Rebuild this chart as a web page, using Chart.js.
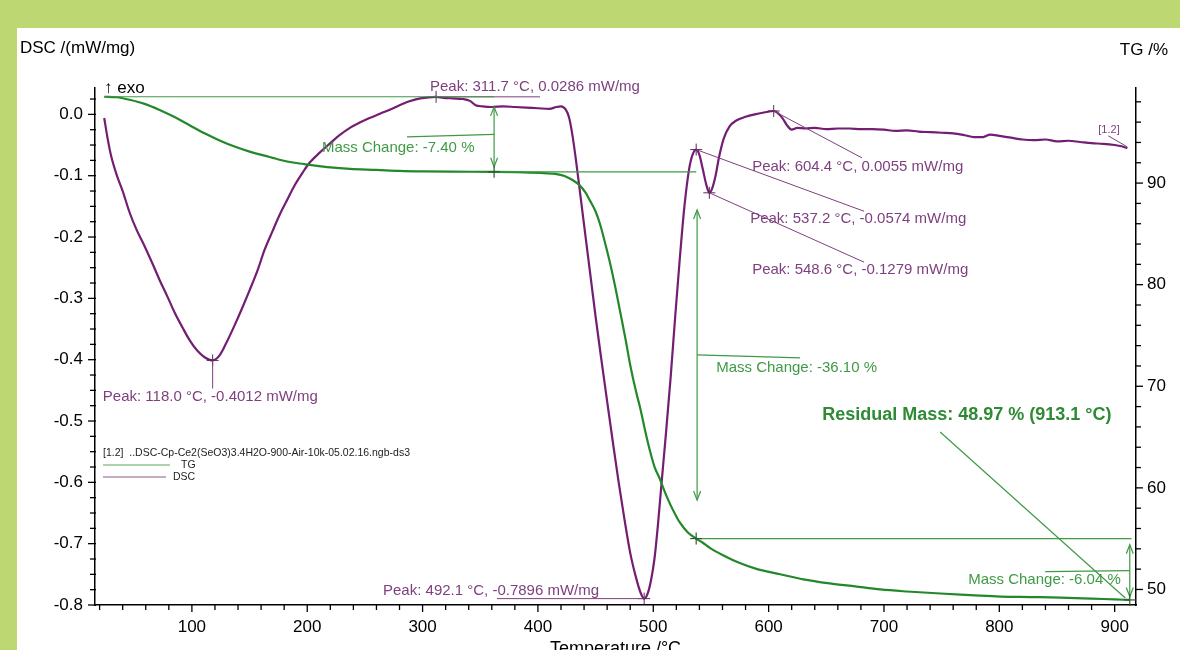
<!DOCTYPE html>
<html>
<head>
<meta charset="utf-8">
<script src="https://cdn.jsdelivr.net/npm/chart.js"></script>
<style>
  html, body { margin: 0; padding: 0; }
  body { width: 1180px; height: 650px; background: #bdd772; position: relative; overflow: hidden; }
  #panel { position: absolute; left: 17px; top: 28px; width: 1163px; height: 622px; background: #fff; }
  canvas { display: block; }
</style>
</head>
<body>
<div id="panel"><canvas id="chart" width="1163" height="622"></canvas></div>
<script>
// DSC curve (temperature in °C, mW/mg)
const dscTemp = [24, 27, 30, 35, 40, 46, 52, 59, 66, 72, 79, 85, 92, 98, 105, 111, 118, 124, 130, 137,
  144, 150, 157, 163, 170, 176, 183, 189, 196, 202, 211, 220, 228, 237, 246, 254, 263, 272, 280, 288,
  298, 311.7, 318, 326, 335, 341, 346, 352, 360, 370, 380, 390, 400, 410, 416, 420, 424, 427, 430, 433,
  436, 440, 445, 450, 455, 460, 465, 470, 475, 480, 485, 489, 492.1, 495, 498, 501, 504, 507, 511, 515,
  519, 523, 527, 531, 534, 537.2, 540, 543, 546, 548.6, 551, 554, 557, 561, 566, 572, 580, 588, 596, 604.4,
  608, 612, 616, 620, 625, 632, 640, 650, 660, 670, 680, 690, 700, 710, 720, 730, 740, 750, 760, 770,
  778, 786, 792, 800, 810, 820, 830, 840, 850, 860, 870, 880, 890, 900, 906, 911];
const dscVal = [-0.006, -0.04, -0.068, -0.1, -0.125, -0.16, -0.188, -0.215, -0.244, -0.27, -0.298, -0.323, -0.348, -0.368, -0.386, -0.396, -0.4012, -0.393, -0.372, -0.344,
  -0.314, -0.287, -0.254, -0.221, -0.19, -0.164, -0.138, -0.116, -0.095, -0.079, -0.062, -0.047, -0.034, -0.022, -0.013, -0.006, 0.001, 0.008, 0.015, 0.021,
  0.026, 0.0286, 0.027, 0.026, 0.025, 0.022, 0.015, 0.013, 0.012, 0.013, 0.012, 0.011, 0.01, 0.009, 0.012, 0.013, 0.008, -0.005, -0.035, -0.075,
  -0.12, -0.18, -0.255, -0.33, -0.4, -0.468, -0.535, -0.6, -0.66, -0.715, -0.755, -0.78, -0.7896, -0.782, -0.76, -0.725, -0.67, -0.605, -0.52, -0.43,
  -0.33, -0.235, -0.15, -0.09, -0.066, -0.0574, -0.066, -0.09, -0.115, -0.1279, -0.121, -0.1, -0.07, -0.04, -0.02, -0.01, -0.004, 0, 0.003, 0.0055,
  0.002, -0.006, -0.018, -0.025, -0.022, -0.023, -0.022, -0.024, -0.023, -0.023, -0.024, -0.024, -0.025, -0.027, -0.026, -0.028, -0.029, -0.03, -0.031, -0.034,
  -0.037, -0.037, -0.033, -0.035, -0.038, -0.041, -0.042, -0.041, -0.044, -0.043, -0.045, -0.047, -0.048, -0.05, -0.052, -0.055];

// TG curve (temperature in °C, mass %)
const tgTemp = [24, 35, 46, 59, 72, 85, 98, 111, 124, 137, 150, 163, 176, 189, 202, 220, 237, 260, 280, 300,
  324, 362, 380, 402, 415, 423, 430, 436, 441, 445, 450, 454, 458, 463, 467, 471, 476, 480, 485, 489,
  493, 497, 501, 506, 510, 515, 519, 523, 530, 537.2, 543, 549, 560, 575, 590, 610, 630, 653, 675, 697,
  720, 749, 775, 801, 827, 853, 880, 900, 913.1];
const tgVal = [98.5, 98.45, 98.2, 97.8, 97.2, 96.5, 95.7, 94.9, 94.2, 93.6, 93.1, 92.7, 92.3, 92.0, 91.8, 91.55, 91.4, 91.3, 91.2, 91.15,
  91.12, 91.11, 91.08, 91.0, 90.9, 90.7, 90.3, 89.8, 89.1, 88.3, 87.2, 85.9, 84.2, 81.9, 79.8, 77.5, 74.6, 72.1, 69.5, 67.7,
  65.6, 63.7, 62.1, 60.8, 59.6, 58.3, 57.4, 56.6, 55.6, 55.01, 54.6, 54.1, 53.4, 52.6, 52.0, 51.5, 51.0, 50.6, 50.3, 50.0,
  49.8, 49.6, 49.45, 49.3, 49.25, 49.2, 49.1, 49.02, 48.97];

// tick labels
const xTicks = [100, 200, 300, 400, 500, 600, 700, 800, 900];
const dscTicks = [0, -0.1, -0.2, -0.3, -0.4, -0.5, -0.6, -0.7, -0.8];
const tgTicks = [50, 60, 70, 80, 90];

// peak marks on the DSC curve
const peakTexts = ['Peak: 118.0 °C, -0.4012 mW/mg', 'Peak: 311.7 °C, 0.0286 mW/mg', 'Peak: 492.1 °C, -0.7896 mW/mg',
  'Peak: 537.2 °C, -0.0574 mW/mg', 'Peak: 548.6 °C, -0.1279 mW/mg', 'Peak: 604.4 °C, 0.0055 mW/mg'];
const peakTemp = [118.0, 311.7, 492.1, 537.2, 548.6, 604.4];
const peakVal = [-0.4012, 0.0286, -0.7896, -0.0574, -0.1279, 0.0055];

// mass change steps on the TG curve
const stepTemp = [362, 537.2, 913.1];
const stepMass = [91.11, 55.01, 48.97];
const startMass = 98.5;
const massChangeTexts = ['Mass Change: -7.40 %', 'Mass Change: -36.10 %', 'Mass Change: -6.04 %'];
const residualText = 'Residual Mass: 48.97 % (913.1 °C)';

const FONT = '"Liberation Sans", Arial, sans-serif';
const DSC_COLOR = '#731d73';
const DSC_TEXT = '#7e3f7e';
const TG_COLOR = '#23882a';
const TG_NOTE = '#3f9a45';

function pts(xs, ys) { return xs.map((x, i) => ({ x: x, y: ys[i] })); }

// label placement for the annotations, in data units (T, value)
const peakLabelPos = [
  { tx: 22.8, tv: -0.46, lx: 118, lv: -0.447 },
  { tx: 306.4, tv: 0.045, lx: 401.8, lv: 0.0286 },
  { tx: 265.7, tv: -0.777, lx: 364.5, lv: -0.7896 },
  { tx: 584, tv: -0.171, lx: 682.8, lv: -0.158 },
  { tx: 585.7, tv: -0.254, lx: 682.8, lv: -0.241 },
  { tx: 585.7, tv: -0.0858, lx: 681, lv: -0.071 }
];

function line(ctx, a, b) { ctx.beginPath(); ctx.moveTo(a.x, a.y); ctx.lineTo(b.x, b.y); ctx.stroke(); }
function cross(ctx, p, s) { line(ctx, {x: p.x - s, y: p.y}, {x: p.x + s, y: p.y}); line(ctx, {x: p.x, y: p.y - s}, {x: p.x, y: p.y + s}); }
function head(ctx, p, dir) {
  // dir 1 = pointing down, -1 = pointing up
  ctx.beginPath();
  ctx.moveTo(p.x - 3.5, p.y - dir * 9);
  ctx.lineTo(p.x, p.y);
  ctx.lineTo(p.x + 3.5, p.y - dir * 9);
  ctx.stroke();
}
function vArrow(ctx, top, bottom) { line(ctx, top, bottom); head(ctx, top, -1); head(ctx, bottom, 1); }

const decor = {
  id: 'decor',
  afterDraw(chart) {
    const ctx = chart.ctx;
    const ca = chart.chartArea;
    const sx = chart.scales.x, sy = chart.scales.y, sg = chart.scales.y1;
    const D = (t, v) => ({ x: sx.getPixelForValue(t), y: sy.getPixelForValue(v) });
    const G = (t, g) => ({ x: sx.getPixelForValue(t), y: sg.getPixelForValue(g) });
    ctx.save();

    // axis tick marks
    ctx.strokeStyle = '#000';
    ctx.lineWidth = 1.3;
    for (let t = 20; t <= 918; t += 20) {
      const x = sx.getPixelForValue(t);
      const major = t % 100 === 0;
      line(ctx, { x: x, y: ca.bottom }, { x: x, y: ca.bottom + (major ? 7 : 5) });
    }
    for (let k = 0; k <= 33; k++) {
      const v = -0.8 + k * 0.025;
      if (v > 0.043) break;
      const y = sy.getPixelForValue(v);
      const major = k % 4 === 0;
      line(ctx, { x: ca.left - (major ? 7 : 5), y: y }, { x: ca.left + 1, y: y });
    }
    for (let g = 50; g <= 98; g += 2) {
      const y = sg.getPixelForValue(g);
      const major = g % 10 === 0;
      line(ctx, { x: ca.right, y: y }, { x: ca.right + (major ? 7 : 5), y: y });
    }

    // axis titles
    ctx.fillStyle = '#000';
    ctx.font = '17px ' + FONT;
    ctx.textBaseline = 'middle';
    ctx.textAlign = 'left';
    ctx.fillText('DSC /(mW/mg)', 3, 20);
    ctx.textAlign = 'right';
    ctx.fillText('TG /%', 1151, 22);
    ctx.textAlign = 'left';
    ctx.fillText('\u2191 exo', ca.left + 9, ca.top);
    ctx.textAlign = 'center';
    ctx.textBaseline = 'top';
    ctx.font = '18px ' + FONT;
    ctx.fillText('Temperature /°C', (ca.left + ca.right) / 2, ca.bottom + 35);

    // DSC peak marks
    ctx.font = '15px ' + FONT;
    ctx.textBaseline = 'middle';
    ctx.textAlign = 'left';
    peakTexts.forEach((txt, i) => {
      const p = D(peakTemp[i], peakVal[i]);
      const pos = peakLabelPos[i];
      ctx.strokeStyle = '#5a2a5a';
      ctx.lineWidth = 1;
      cross(ctx, p, 6);
      ctx.strokeStyle = DSC_TEXT;
      line(ctx, p, D(pos.lx, pos.lv));
      const tp = D(pos.tx, pos.tv);
      ctx.fillStyle = DSC_TEXT;
      ctx.fillText(txt, tp.x, tp.y);
    });
    // curve tag
    ctx.font = '11px ' + FONT;
    const tag = D(885.8, -0.025);
    ctx.fillText('[1.2]', tag.x, tag.y);
    ctx.strokeStyle = DSC_TEXT;
    line(ctx, D(894.5, -0.035), D(911, -0.053));

    // TG mass change marks
    ctx.strokeStyle = TG_NOTE;
    ctx.lineWidth = 1.2;
    line(ctx, G(24, startMass), G(stepTemp[0], startMass));
    line(ctx, G(stepTemp[0], stepMass[0]), G(stepTemp[1], stepMass[0]));
    line(ctx, G(stepTemp[1], stepMass[1]), G(stepTemp[2] + 1.5, stepMass[1]));
    vArrow(ctx, G(stepTemp[0], 97.5), G(stepTemp[0], 91.6));
    vArrow(ctx, G(538, 87.35), G(538, 58.8));
    vArrow(ctx, G(stepTemp[2], 54.4), G(stepTemp[2], 49.3));
    // leaders
    line(ctx, G(286.5, 94.55), G(stepTemp[0], 94.8));
    line(ctx, G(538, 73.1), G(627.3, 72.8));
    line(ctx, G(839.8, 51.75), G(stepTemp[2], 51.85));
    line(ctx, G(748.7, 65.5), G(909.2, 49.16));
    ctx.strokeStyle = '#2e5a2e';
    stepTemp.forEach((t, i) => cross(ctx, G(t, stepMass[i]), 6));

    ctx.fillStyle = TG_NOTE;
    ctx.font = '15px ' + FONT;
    const mcPos = [G(212.7, 93.45), G(554.5, 71.8), G(773, 50.94)];
    massChangeTexts.forEach((txt, i) => ctx.fillText(txt, mcPos[i].x, mcPos[i].y));
    ctx.fillStyle = '#2f8a35';
    ctx.font = 'bold 18px ' + FONT;
    const rp = G(646.4, 67.17);
    ctx.fillText(residualText, rp.x, rp.y);

    // file legend
    ctx.fillStyle = '#222';
    ctx.font = '10.5px ' + FONT;
    ctx.fillText('[1.2]  ..DSC-Cp-Ce2(SeO3)3.4H2O-900-Air-10k-05.02.16.ngb-ds3', ca.left + 8, ca.top + 365);
    ctx.lineWidth = 1.2;
    ctx.strokeStyle = '#5fa75f';
    line(ctx, { x: ca.left + 8, y: ca.top + 377 }, { x: ca.left + 75, y: ca.top + 377 });
    ctx.strokeStyle = '#8a5a8a';
    line(ctx, { x: ca.left + 8, y: ca.top + 389 }, { x: ca.left + 71, y: ca.top + 389 });
    ctx.fillText('TG', ca.left + 86, ca.top + 377);
    ctx.fillText('DSC', ca.left + 78, ca.top + 389);

    ctx.restore();
  }
};

const axisBorder = { display: true, color: '#000', width: 1.5 };
const tickFont = { family: FONT, size: 17 };

new Chart(document.getElementById('chart').getContext('2d'), {
  type: 'line',
  data: {
    datasets: [
      { label: 'TG', data: pts(tgTemp, tgVal), yAxisID: 'y1', borderColor: TG_COLOR, borderWidth: 2.2,
        pointRadius: 0, cubicInterpolationMode: 'monotone', fill: false },
      { label: 'DSC', data: pts(dscTemp, dscVal), yAxisID: 'y', borderColor: DSC_COLOR, borderWidth: 2.2,
        pointRadius: 0, cubicInterpolationMode: 'monotone', fill: false }
    ]
  },
  options: {
    responsive: false,
    animation: false,
    layout: { padding: { top: 60, left: 0, right: 0, bottom: 0 } },
    plugins: { legend: { display: false }, tooltip: { enabled: false } },
    scales: {
      x: {
        type: 'linear', min: 16, max: 918.5,
        afterBuildTicks: s => { s.ticks = xTicks.map(v => ({ value: v })); },
        afterFit: s => { s.height = 45; },
        grid: { display: false, drawTicks: false },
        border: axisBorder,
        ticks: { padding: 12, color: '#000', font: tickFont, maxRotation: 0 }
      },
      y: {
        position: 'left', min: -0.8, max: 0.043,
        afterBuildTicks: s => { s.ticks = dscTicks.map(v => ({ value: v })); },
        afterFit: s => { s.width = 78; },
        grid: { display: false, drawTicks: false },
        border: axisBorder,
        ticks: { padding: 12, color: '#000', font: tickFont, callback: v => v.toFixed(1) }
      },
      y1: {
        position: 'right', min: 48.47, max: 99.36,
        afterBuildTicks: s => { s.ticks = tgTicks.map(v => ({ value: v })); },
        afterFit: s => { s.width = 44; },
        grid: { display: false, drawTicks: false },
        border: axisBorder,
        ticks: { padding: 11, color: '#000', font: tickFont }
      }
    }
  },
  plugins: [decor]
});
</script>
</body>
</html>
